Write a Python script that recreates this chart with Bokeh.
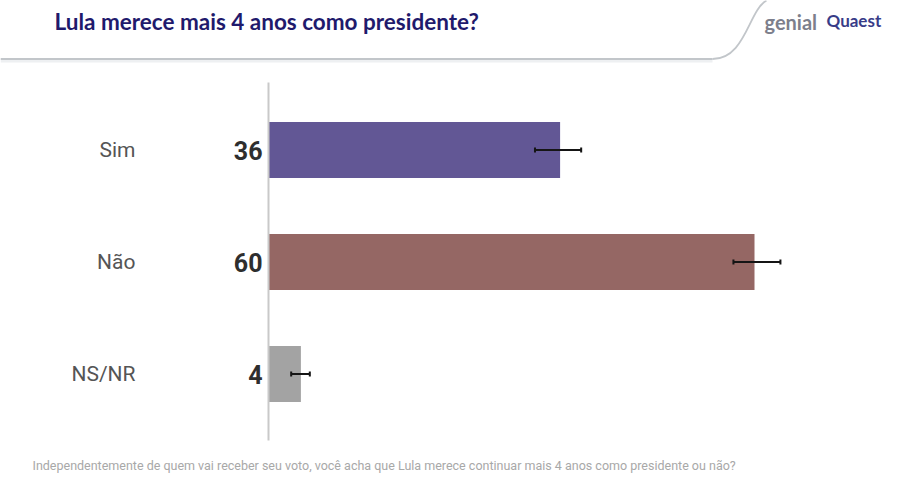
from bokeh.plotting import figure
from bokeh.embed import file_html
from bokeh.resources import INLINE
from bokeh.models import Range1d, ColumnDataSource
from bokeh.core.properties import value

# ---- data ----
categories = ["Sim", "Não", "NS/NR"]
values = [36, 60, 4]
err_low = [32.9, 57.4, 2.8]
err_high = [38.6, 63.2, 5.1]
colors = ["#625795", "#956764", "#a3a3a3"]
title_text = "Lula merece mais 4 anos como presidente?"
question_text = ("Independentemente de quem vai receber seu voto, você acha que Lula "
                 "merece continuar mais 4 anos como presidente ou não?")

W, H = 884, 480
OFF = 0  # page offset of the canvas in the screenshot
PX_PER_UNIT_X = 8.1
ZERO_X = 268 - OFF  # figure px of x=0
PX_PER_UNIT_Y = 112.0
Y_START = -(H - (373.5 - OFF)) / PX_PER_UNIT_Y
Y_END = Y_START + H / PX_PER_UNIT_Y
x_start = -ZERO_X / PX_PER_UNIT_X
x_end = (W - ZERO_X) / PX_PER_UNIT_X


def dx(ref_px):
    return (ref_px - OFF - ZERO_X) / PX_PER_UNIT_X


def dy(ref_py):
    return Y_END - (ref_py - OFF) / PX_PER_UNIT_Y


p = figure(width=W, height=H, output_backend="svg", toolbar_location=None,
           x_range=Range1d(x_start, x_end), y_range=Range1d(Y_START, Y_END),
           min_border=0)
p.axis.visible = False
p.grid.visible = False
p.outline_line_color = None
p.background_fill_color = "white"
p.border_fill_color = "white"

n = len(categories)
ypos = [n - 1 - i for i in range(n)]

src = ColumnDataSource(dict(cat=categories, v=values, lo=err_low, hi=err_high,
                            color=colors, y=ypos,
                            vlabel=[str(v) for v in values]))

# bars
p.hbar(y="y", left=0, right="v", height=0.5, fill_color="color",
       line_color=None, source=src)

# vertical axis line
p.segment(x0=0, y0=dy(82), x1=0, y1=dy(440), line_color="#c9c9c9", line_width=2)

# error bars
p.segment(x0="lo", y0="y", x1="hi", y1="y", line_color="#151515", line_width=2, source=src)
cap = 2.5 / PX_PER_UNIT_Y
src_caps = ColumnDataSource(dict(x=err_low + err_high, y=ypos + ypos))
p.rect(x="x", y="y", width=0.25, height=2 * cap, fill_color="#151515",
       line_color=None, source=src_caps)

# category labels
p.text(x=dx(135), y="y", text="cat", source=src, text_align="right",
       text_baseline="middle", text_font=value("Roboto"), text_font_size="21px",
       text_color="#555555")
# value labels
p.text(x=dx(262), y="y", text="vlabel", source=src, text_align="right",
       text_baseline="middle", text_font=value("Roboto"), text_font_style="bold",
       text_font_size="25px", text_color="#2e2e2e")

# header
p.text(x=[dx(54)], y=[dy(21)], text=[title_text], text_align="left",
       text_baseline="middle", text_font=value("Lato"), text_font_style="bold",
       text_font_size="22.5px", text_color="#1f1a6c")
p.segment(x0=dx(0), y0=dy(60), x1=dx(712), y1=dy(60), line_color="#eef0f2", line_width=4)
p.segment(x0=dx(0), y0=dy(58.5), x1=dx(712), y1=dy(58.5), line_color="#c2c6ca", line_width=1.8)
p.bezier(x0=dx(712), y0=dy(58.5), x1=dx(766), y1=dy(0),
         cx0=dx(745), cy0=dy(58.5), cx1=dx(748), cy1=dy(10),
         line_color="#c2c6ca", line_width=1.8)
p.text(x=[dx(764)], y=[dy(21)], text=["genial"], text_align="left",
       text_baseline="middle", text_font=value("Lato"), text_font_style="bold",
       text_font_size="20px", text_color="#7d7f8c")
p.text(x=[dx(826)], y=[dy(20)], text=["Quaest"], text_align="left",
       text_baseline="middle", text_font=value("Lato"), text_font_style="bold",
       text_font_size="17px", text_color="#383c88")

# footer question
p.text(x=[dx(32)], y=[dy(465)], text=[question_text], text_align="left",
       text_baseline="middle", text_font=value("Roboto"), text_font_size="12.5px",
       text_color="#a8a8a8")

open("out.html", "w").write(file_html(p, INLINE))
